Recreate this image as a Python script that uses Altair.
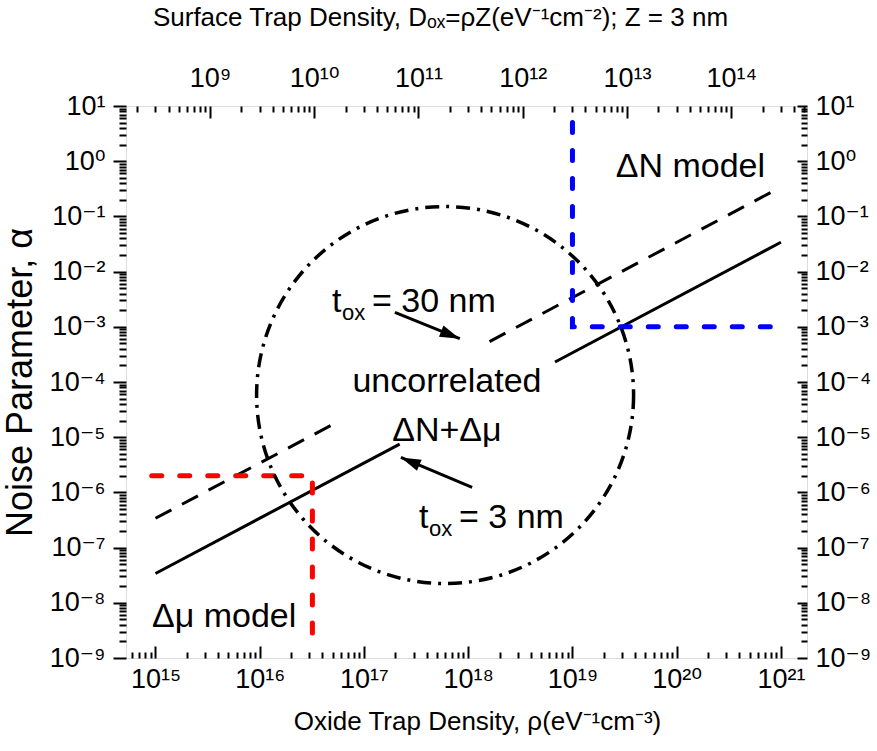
import altair as alt
import pandas as pd

# ---------------- axis definitions ----------------
X_DOMAIN = [10 ** 14.717, 10 ** 21.25]      # oxide trap density rho (eV^-1 cm^-3)
Y_DOMAIN = [1e-9, 1e1]                      # noise parameter alpha
Z_CM = 3e-7                                 # Z = 3 nm, D_ox = rho * Z

bottom_ticks = [1e15, 1e16, 1e17, 1e18, 1e19, 1e20, 1e21]
bottom_labels = ['10¹⁵', '10¹⁶', '10¹⁷', '10¹⁸', '10¹⁹', '10²⁰', '10²¹']
top_ticks_D = [1e9, 1e10, 1e11, 1e12, 1e13, 1e14]
top_labels = ['10⁹', '10¹⁰', '10¹¹', '10¹²', '10¹³', '10¹⁴']
y_ticks = [1e-9, 1e-8, 1e-7, 1e-6, 1e-5, 1e-4, 1e-3, 1e-2, 1e-1, 1e0, 1e1]
y_labels = ['10⁻⁹', '10⁻⁸', '10⁻⁷', '10⁻⁶', '10⁻⁵', '10⁻⁴', '10⁻³',
            '10⁻²', '10⁻¹', '10⁰', '10¹']

# ---------------- data ----------------
# solid line (t_ox = 3 nm), two segments with a gap for the labels
solid_rho = [1e15, 2.2e17, 6.8e18, 1e21]
solid_alpha = [3.4e-8, 7.5e-6, 2.3e-4, 3.4e-2]
solid_seg = [0, 0, 1, 1]

# dashed line (t_ox = 30 nm)
dashed_rho = [1e15, 5.9e16, 1.6e18, 1e21]
dashed_alpha = [3.4e-7, 2.0e-5, 5.4e-4, 0.34]
dashed_seg = [0, 0, 1, 1]

# red dashed boundary (delta-mu model)
red_rho = [9.2e14, 3.2e16, 3.2e16]
red_alpha = [2e-6, 2e-6, 1.9e-9]

# blue dashed boundary (delta-N model)
blue_rho = [1e19, 1e19, 1.1e21]
blue_alpha = [5.0, 1e-3, 1e-3]

# centre of the dash-dot "uncorrelated" circle
circle_rho = [6.0e17]
circle_alpha = [5.8e-5]

# arrows
arrow_tail_rho = [1.98e17, 1.09e18]
arrow_tail_alpha = [1.82e-3, 1.23e-6]
arrow_tip_rho = [8.3e17, 2.26e17]
arrow_tip_alpha = [6.1e-4, 4.3e-6]
arrow_angle = [22, 203]

# text annotations
left_text = ['ΔN model', 'Δμ model']
left_rho = [2.6e19, 9.25e14]
left_alpha = [0.77, 5.6e-9]
center_text = ['uncorrelated', 'ΔN+Δμ']
center_rho = [6.25e17, 6.25e17]
center_alpha = [9.8e-5, 1.27e-5]
tox_rho = [4.93e16, 3.37e17]
tox_alpha = [2.87e-3, 3.5e-7]
tox_rest = ['= 30 nm', '= 3 nm']

FONT = 'Liberation Sans'
LABEL_FONT = 'Liberation Sans, DejaVu Sans'

# ---------------- tick values ----------------
minor_x = [m * 10.0 ** k for k in range(14, 22) for m in range(2, 10)
           if X_DOMAIN[0] <= m * 10.0 ** k <= X_DOMAIN[1]]
top_major = [d / Z_CM for d in top_ticks_D]
minor_top = [m * 10.0 ** k / Z_CM for k in range(8, 15) for m in range(2, 10)
             if X_DOMAIN[0] <= m * 10.0 ** k / Z_CM <= X_DOMAIN[1]]
minor_y = [m * 10.0 ** k for k in range(-9, 1) for m in range(2, 10)]


def arr(labels):
    return '[' + ','.join("'" + s + "'" for s in labels) + ']'


bottom_expr = arr(bottom_labels) + '[round(log(datum.value)/LN10)-15]'
top_expr = arr(top_labels) + '[round(log(datum.value*%g)/LN10)-9]' % Z_CM
y_expr = arr(y_labels) + '[round(log(datum.value)/LN10)+9]'

xs = alt.Scale(type='log', domain=X_DOMAIN, nice=False)
ys = alt.Scale(type='log', domain=Y_DOMAIN, nice=False)

common = dict(domain=False, grid=False, tickColor='black', tickWidth=2,
              labelColor='black', labelFont=LABEL_FONT, labelFontSize=27,
              labelFlush=False, labelOverlap=False, titleFont=FONT,
              titleFontWeight='normal', titleColor='black')

ax_bottom = alt.Axis(orient='bottom', values=bottom_ticks, labelExpr=bottom_expr,
                     tickSize=12, offset=-12, labelPadding=8,
                     title='Oxide Trap Density, ρ(eV⁻¹cm⁻³)', titleFontSize=26,
                     titlePadding=16, titleX=351, **common)
ax_bottom_minor = alt.Axis(orient='bottom', values=minor_x, labels=False,
                           tickSize=6, offset=-6, title=None, **common)
ax_top = alt.Axis(orient='top', values=top_major, labelExpr=top_expr,
                  tickSize=12, offset=-12, labelPadding=14,
                  title='Surface Trap Density, Dₒₓ=ρZ(eV⁻¹cm⁻²); Z = 3 nm',
                  titleFontSize=26, titlePadding=34, titleX=314, **common)
ax_top_minor = alt.Axis(orient='top', values=minor_top, labels=False,
                        tickSize=6, offset=-6, title=None, **common)
ax_left = alt.Axis(orient='left', values=y_ticks, labelExpr=y_expr,
                   tickSize=13, labelPadding=8, title='Noise Parameter, α',
                   titleFontSize=36, titlePadding=10, **common)
ax_left_minor = alt.Axis(orient='left', values=minor_y, labels=False,
                         tickSize=7, title=None, **common)
ax_right = alt.Axis(orient='right', values=y_ticks, labelExpr=y_expr,
                    tickSize=10, offset=-10, labelPadding=8, title=None, **common)
ax_right_minor = alt.Axis(orient='right', values=minor_y, labels=False,
                          tickSize=6, offset=-6, title=None, **common)


def X(field, axis=None):
    return alt.X(field, type='quantitative', scale=xs, axis=axis)


def Y(field, axis=None):
    return alt.Y(field, type='quantitative', scale=ys, axis=axis)


solid_df = pd.DataFrame({'rho': solid_rho, 'alpha': solid_alpha, 'seg': solid_seg,
                         'i': range(len(solid_rho))})
dashed_df = pd.DataFrame({'rho': dashed_rho, 'alpha': dashed_alpha, 'seg': dashed_seg,
                          'i': range(len(dashed_rho))})
red_df = pd.DataFrame({'rho': red_rho, 'alpha': red_alpha, 'i': range(len(red_rho))})
blue_df = pd.DataFrame({'rho': blue_rho, 'alpha': blue_alpha, 'i': range(len(blue_rho))})

solid = alt.Chart(solid_df).mark_line(color='black', strokeWidth=3).encode(
    x=X('rho', ax_bottom), y=Y('alpha', ax_left), detail='seg:N', order='i:Q')
dashed = alt.Chart(dashed_df).mark_line(color='black', strokeWidth=3,
                                        strokeDash=[18, 12]).encode(
    x=X('rho', ax_bottom_minor), y=Y('alpha', ax_left_minor), detail='seg:N', order='i:Q')
red = alt.Chart(red_df).mark_line(color='#ff0000', strokeWidth=5, strokeDash=[10, 18],
                                  strokeCap='round').encode(
    x=X('rho', ax_top), y=Y('alpha', ax_right), order='i:Q')
blue = alt.Chart(blue_df).mark_line(color='#0000ff', strokeWidth=5, strokeDash=[10, 18],
                                    strokeCap='round').encode(
    x=X('rho', ax_top_minor), y=Y('alpha', ax_right_minor), order='i:Q')

circle = alt.Chart(pd.DataFrame({'rho': circle_rho, 'alpha': circle_alpha})).mark_point(
    shape='circle', size=377 ** 2, filled=False, color='black', strokeWidth=3.5,
    strokeDash=[14, 7, 3, 7], opacity=1).encode(x=X('rho'), y=Y('alpha'))

layers = [solid, dashed, red, blue, circle]

for i in range(len(arrow_angle)):
    adf = pd.DataFrame({'x1': [arrow_tail_rho[i]], 'y1': [arrow_tail_alpha[i]],
                        'x2': [arrow_tip_rho[i]], 'y2': [arrow_tip_alpha[i]]})
    shaft = alt.Chart(adf).mark_rule(color='black', strokeWidth=3).encode(
        x=X('x1'), y=Y('y1'), x2='x2', y2='y2')
    head = alt.Chart(adf).mark_point(shape='M0,0L-2,-0.6L-2,0.6Z', size=400, filled=True,
                                     color='black', opacity=1, angle=arrow_angle[i]).encode(
        x=X('x2'), y=Y('y2'))
    layers += [shaft, head]

left_df = pd.DataFrame({'rho': left_rho, 'alpha': left_alpha, 't': left_text})
center_df = pd.DataFrame({'rho': center_rho, 'alpha': center_alpha, 't': center_text})
tox_df = pd.DataFrame({'rho': tox_rho, 'alpha': tox_alpha, 'rest': tox_rest})

layers.append(alt.Chart(left_df).mark_text(align='left', font=FONT, fontSize=34,
                                           color='black').encode(
    x=X('rho'), y=Y('alpha'), text='t:N'))
layers.append(alt.Chart(center_df).mark_text(align='center', font=FONT, fontSize=34,
                                             color='black').encode(
    x=X('rho'), y=Y('alpha'), text='t:N'))
layers.append(alt.Chart(tox_df).mark_text(align='left', font=FONT, fontSize=34,
                                          color='black', text='t').encode(
    x=X('rho'), y=Y('alpha')))
layers.append(alt.Chart(tox_df).mark_text(align='left', font=FONT, fontSize=22,
                                          color='black', text='ox', dx=10, dy=11).encode(
    x=X('rho'), y=Y('alpha')))
layers.append(alt.Chart(tox_df).mark_text(align='left', font=FONT, fontSize=34,
                                          color='black', dx=40).encode(
    x=X('rho'), y=Y('alpha'), text='rest:N'))

chart = alt.layer(*layers).resolve_axis(x='independent', y='independent').properties(
    width=681, height=552,
    autosize=alt.AutoSizeParams(type='none'),
    padding={'left': 126, 'top': 106, 'right': 70, 'bottom': 93},
).configure_view(stroke='black', strokeWidth=2).configure(font=FONT)

chart.save('out.html', embed_options={'renderer': 'svg', 'actions': False})
